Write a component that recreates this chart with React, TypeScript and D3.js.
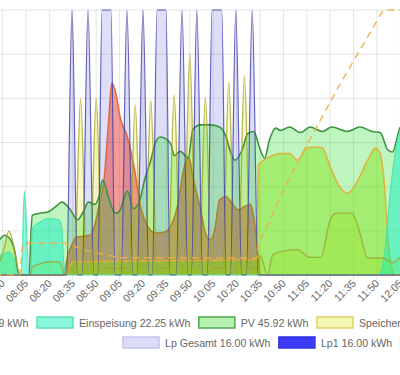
import React from "react";
import * as d3 from "d3";

type Pt = [string, number];

const xTickLabels = ["07:50","08:05","08:20","08:35","08:50","09:05","09:20","09:35","09:50","10:05","10:20","10:35","10:50","11:05","11:20","11:35","11:50","12:05"];
const yTicks = [0, 2, 4, 6, 8, 10, 12];

const pv: Pt[] = [
  ["07:45",1.5],["07:48",1.6],["07:51",1.8],["07:54",1.7],["07:58",1.0],["08:00",0.1],["08:02",0],["08:07",0],
  ["08:08",1.6],["08:09",2.7],["08:14",2.8],["08:19",2.85],["08:24",3.1],["08:28",3.3],["08:33",3.0],["08:38",2.5],
  ["08:42",2.9],["08:45",3.3],["08:49",3.2],["08:52",3.6],["08:54",4.3],["08:58",3.5],["09:01",2.9],["09:03",2.8],
  ["09:05",2.9],["09:10",3.8],["09:14",3.0],["09:18",3.4],["09:21",4.3],["09:25",5.2],["09:28",6.0],["09:31",6.25],
  ["09:35",6.15],["09:38",5.9],["09:40",5.4],["09:44",5.6],["09:49",5.3],["09:52",6.6],["09:57",6.8],["10:03",6.8],
  ["10:09",6.7],["10:13",6.3],["10:16",5.6],["10:19",5.2],["10:24",5.75],["10:27",6.4],["10:31",6.5],["10:35",5.7],
  ["10:38",5.3],["10:41",6.1],["10:45",6.65],["10:48",6.55],["10:54",6.7],["11:01",6.45],["11:07",6.7],["11:15",6.5],
  ["11:21",6.7],["11:31",6.5],["11:39",6.7],["11:47",6.5],["11:52",6.45],["11:57",5.66],["12:00",5.57],["12:03",6.25],
  ["12:05",6.7],["12:12",6.7]
];

const einspeisung: Pt[] = [
  ["07:45",0.9],["07:48",0.9],["07:54",1.05],["07:57",0.77],["08:00",0],["08:02",0],["08:04",3.8],["08:07",0],
  ["08:08",0],["08:09",2.1],["08:14",2.4],["08:20",2.55],["08:26",2.5],["08:28",2.1],["08:29",0.7],["08:31",0],
  ["11:50",0],["11:52",0.1],["11:55",1.1],["11:58",3.4],["12:01",5.2],["12:04",6.35],["12:08",6.7],["12:12",6.7]
];

const bezug: Pt[] = [
  ["07:45",0],["08:28",0],["08:30",0.1],["08:31",0.6],["08:35",1.45],["08:37",1.7],["08:46",1.8],["08:49",2.25],
  ["08:52",3.2],["08:55",4.3],["08:58",7.0],["09:00",8.7],["09:03",8.1],["09:05",7.25],["09:10",6.25],["09:15",4.6],
  ["09:18",3.25],["09:23",2.2],["09:28",1.9],["09:34",1.95],["09:39",2.4],["09:42",3.1],["09:46",4.75],["09:49",5.35],
  ["09:50",5.2],["09:52",4.45],["09:57",2.95],["10:00",1.9],["10:03",1.6],["10:06",2.05],["10:09",3.4],["10:13",3.55],
  ["10:17",3.25],["10:21",2.95],["10:25",3.1],["10:29",3.2],["10:31",2.6],["10:33",1.45],["10:35",0],["12:12",0]
];

const hausverbrauch: Pt[] = [
  ["07:45",0.3],["07:48",0.6],["07:51",1.2],["07:54",2.0],["07:57",1.35],["07:59",0.6],["08:01",0],["08:08",0],
  ["08:09",0.35],["08:14",0.5],["08:20",0.6],["08:26",0.6],["08:28",0.4],["08:30",0],["08:33",0.3],["08:36",0.3],
  ["08:40",8.0],["08:44",0.3],["08:46",0.3],["08:50",8.0],["08:54",0.3],["09:11",0.3],["09:15",7.7],["09:19",0.3],
  ["09:21",0.3],["09:25",7.9],["09:29",0.3],["09:36",0.3],["09:40",8.15],["09:44",0.3],["09:46",0.3],["09:50",10.0],
  ["09:54",0.3],["09:56",0.3],["10:00",8.05],["10:04",0.3],["10:11",0.3],["10:15",8.75],["10:19",0.3],["10:21",0.3],
  ["10:25",9.05],["10:29",0.3],["10:33",0.4],["10:34",0],["10:35",0.9],["10:40",0],["10:43",0.9],["10:48",1.05],
  ["10:59",1.15],["11:07",0.8],["11:14",0.8],["11:20",2.5],["11:24",2.8],["11:34",2.8],["11:39",1.9],["11:44",0.77],
  ["11:54",0.77],["12:00",0.55],["12:05",0.77],["12:12",0.77]
];

const speicher: Pt[] = [
  ["07:45",0],["08:30",0],["08:35",0.6],["10:33",0.7],["10:34",5.0],["10:40",5.3],["10:48",5.5],["10:54",5.5],
  ["10:59",5.2],["11:05",5.75],["11:10",5.8],["11:15",5.75],["11:20",4.9],["11:26",4.0],["11:31",3.7],["11:37",4.2],
  ["11:44",5.2],["11:49",5.75],["11:52",5.5],["11:55",3.85],["11:57",1.6],["12:00",0.2],["12:02",0],["12:12",0]
];

const speicherSoc: Pt[] = [
  ["07:45",0],["08:01",0],["08:03",12],["08:30",12],["08:45",9],["09:05",6.5],["10:33",6.5],["10:34",11.3],
  ["10:54",37],["11:05",49],["11:26",71.7],["11:54",100],["12:12",100]
];

const lpGesamt: Pt[] = [
  ["07:45",0],
  ["08:31:00",0],["08:34:30",12],["08:38:00",0],
  ["08:41:00",0],["08:44:45",12],["08:48:30",0],
  ["08:51:00",0],["08:53:45",12],["08:59:30",12],["09:02:00",0],
  ["09:06:00",0],["09:09:45",12],["09:13:30",0],
  ["09:16:15",0],["09:20:00",12],["09:23:45",0],
  ["09:26:00",0],["09:29:00",12],["09:34:45",12],["09:37:15",0],
  ["09:41:15",0],["09:45:00",12],["09:48:45",0],
  ["09:51:00",0],["09:54:30",12],["09:58:15",0],
  ["10:01:15",0],["10:04:15",12],["10:10:30",12],["10:13:15",0],
  ["10:16:00",0],["10:19:30",12],["10:23:15",0],
  ["10:26:15",0],["10:30:00",12],["10:33:45",0],
  ["12:12",0]
];

const legendRow1 = [
  { label: "Bezug 14.49 kWh", fill: "rgba(236,120,120,1)", stroke: "rgba(215,70,50,1)" },
  { label: "Einspeisung 22.25 kWh", fill: "#8af7dc", stroke: "#5fe0b4" },
  { label: "PV 45.92 kWh", fill: "#b8f0b0", stroke: "#4fa84f" },
  { label: "Speicherleistung 9.87 kWh", fill: "#f6f6b4", stroke: "#e2d264" },
];
const legendRow2 = [
  { label: "Lp Gesamt 16.00 kWh", fill: "#dcdcf6", stroke: "#c4c4ee" },
  { label: "Lp1 16.00 kWh", fill: "#3c3cf6", stroke: "#3030e0" },
  { label: "Hausverbrauch 20.12 kWh", fill: "#a0a030", stroke: "#8a8a20" },
];

const FONT = '"Liberation Sans", Arial, Helvetica, sans-serif';
const FS = 10.6;

const parseT = (s: string) => {
  const p = s.split(":").map(Number);
  return p[0] * 60 + p[1] + (p[2] || 0) / 60;
};

let measureCtx: CanvasRenderingContext2D | null = null;
const textW = (s: string) => {
  if (!measureCtx) {
    measureCtx = document.createElement("canvas").getContext("2d");
    if (measureCtx) measureCtx.font = `${FS}px ${FONT}`;
  }
  return measureCtx ? measureCtx.measureText(s).width : s.length * 5.6;
};

export default function App() {
  const W = 400, H = 375;
  const x = d3.scaleLinear().domain([parseT("08:05"), parseT("12:05")]).range([26, 400.4]);
  const y = d3.scaleLinear().domain([0, 12]).range([275, 10]);
  const ySoc = d3.scaleLinear().domain([0, 100]).range([275, 10]);

  const area = (data: Pt[]) =>
    d3.area<Pt>().x(d => x(parseT(d[0]))).y0(y(0)).y1(d => y(d[1])).curve(d3.curveMonotoneX)(data) || "";
  const line = (data: Pt[]) =>
    d3.line<Pt>().x(d => x(parseT(d[0]))).y(d => y(d[1])).curve(d3.curveMonotoneX)(data) || "";
  const socLine =
    d3.line<Pt>().x(d => x(parseT(d[0]))).y(d => ySoc(d[1])).curve(d3.curveLinear)(speicherSoc) || "";

  const series = [
    { data: lpGesamt, fill: "rgba(90,90,220,0.2)", stroke: "none", sw: 0 },
    { data: hausverbrauch, fill: "rgba(240,240,100,0.4)", stroke: "none", sw: 0 },
    { data: bezug, fill: "rgba(228,45,40,0.47)", stroke: "rgba(222,98,55,0.95)", sw: 1.5 },
    { data: pv, fill: "rgba(0,215,0,0.25)", stroke: "#3d9440", sw: 1.6 },
    { data: speicher, fill: "rgba(120,225,0,0.4)", stroke: "rgba(225,175,55,0.95)", sw: 1.5 },
    { data: einspeisung, fill: "rgba(0,240,190,0.45)", stroke: "rgba(80,225,170,0.9)", sw: 1.2 },
  ];

  // legend layout
  const boxW = 36, boxH = 11, gapT = 6, gapI = 8.5;
  const itemW = (l: string) => boxW + gapT + textW(l) + gapI;
  const row1Start = 37 - itemW(legendRow1[0].label);
  const row2Start = 123;
  const layoutRow = (items: typeof legendRow1, start: number) => {
    let cx = start;
    return items.map(it => {
      const pos = cx;
      cx += itemW(it.label);
      return { ...it, x: pos };
    });
  };
  const r1 = layoutRow(legendRow1, row1Start);
  const r2 = layoutRow(legendRow2, row2Start);

  return (
    <svg width={W} height={H} style={{ position: "absolute", left: 0, top: 0, background: "#fff" }}>
      <defs>
        <clipPath id="plot">
          <rect x={-20} y={8} width={440} height={269} />
        </clipPath>
      </defs>
      {/* grid */}
      <g stroke="rgba(0,0,0,0.1)" strokeWidth={1}>
        {yTicks.map(t => (
          <line key={"h" + t} x1={0} x2={W} y1={y(t)} y2={y(t)} />
        ))}
        {xTickLabels.map(t => (
          <line key={"v" + t} x1={x(parseT(t))} x2={x(parseT(t))} y1={y(12)} y2={y(0) + 5} />
        ))}
      </g>
      <g clipPath="url(#plot)">
        {series.map((s, i) => (
          <g key={i}>
            <path d={area(s.data)} fill={s.fill} stroke="none" />
            {s.sw > 0 && <path d={line(s.data)} fill="none" stroke={s.stroke} strokeWidth={s.sw} />}
          </g>
        ))}
        <path d={line(hausverbrauch)} fill="none" stroke="rgba(160,160,45,0.75)" strokeWidth={1.4} />
        <path d={line(lpGesamt)} fill="none" stroke="rgba(60,60,170,0.8)" strokeWidth={1.2} />
        <path d={socLine} fill="none" stroke="rgba(238,175,70,0.9)" strokeWidth={1.5} strokeDasharray="7,5" />
      </g>
      {/* x tick labels */}
      <g fontFamily={FONT} fontSize={FS} fill="#666">
        {xTickLabels.map(t => (
          <text key={"l" + t} transform={`translate(${x(parseT(t)) + 3},${284}) rotate(-45)`} textAnchor="end">
            {t}
          </text>
        ))}
      </g>
      {/* legend */}
      <g fontFamily={FONT} fontSize={FS} fill="#666">
        {r1.map(it => (
          <g key={it.label}>
            <rect x={it.x} y={317} width={boxW} height={boxH} fill={it.fill} stroke={it.stroke} strokeWidth={1.5} />
            <text x={it.x + boxW + gapT} y={327}>{it.label}</text>
          </g>
        ))}
        {r2.map(it => (
          <g key={it.label}>
            <rect x={it.x} y={337} width={boxW} height={boxH} fill={it.fill} stroke={it.stroke} strokeWidth={1.5} />
            <text x={it.x + boxW + gapT} y={347}>{it.label}</text>
          </g>
        ))}
      </g>
    </svg>
  );
}
